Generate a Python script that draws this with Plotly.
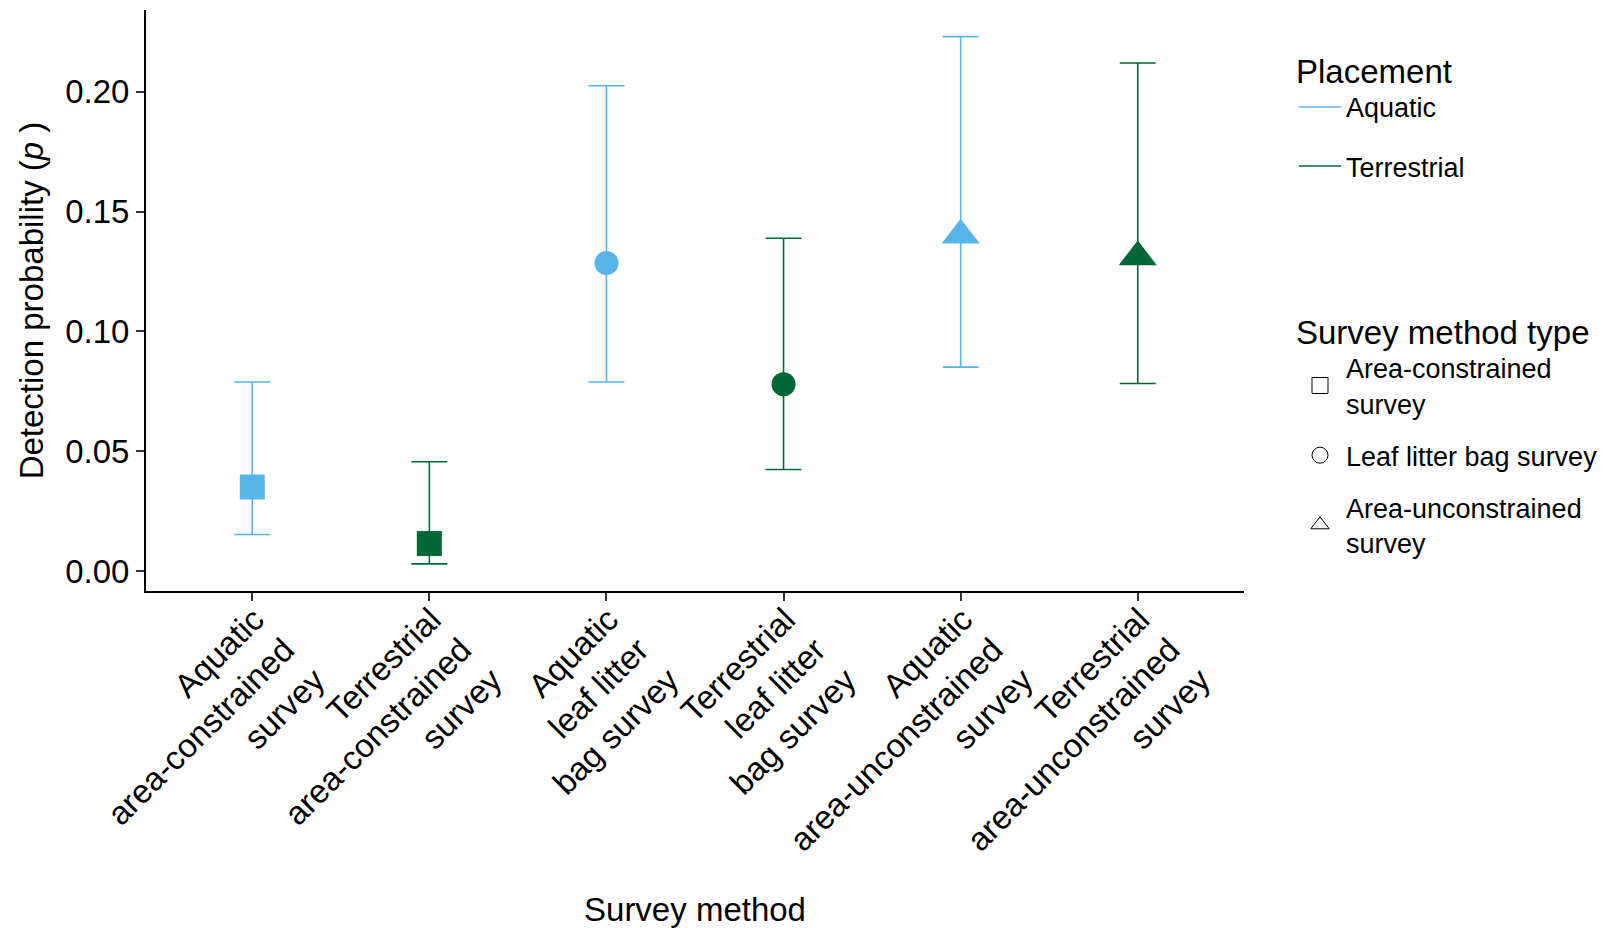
import plotly.graph_objects as go

# ---- data ----
categories = [
    "Aquatic<br>area-constrained<br>survey",
    "Terrestrial<br>area-constrained<br>survey",
    "Aquatic<br>leaf litter<br>bag survey",
    "Terrestrial<br>leaf litter<br>bag survey",
    "Aquatic<br>area-unconstrained<br>survey",
    "Terrestrial<br>area-unconstrained<br>survey",
]
placement = ["Aquatic", "Terrestrial", "Aquatic", "Terrestrial", "Aquatic", "Terrestrial"]
method_type = ["Area-constrained survey", "Area-constrained survey",
               "Leaf litter bag survey", "Leaf litter bag survey",
               "Area-unconstrained survey", "Area-unconstrained survey"]
estimate = [0.0351, 0.0115, 0.1285, 0.0780, 0.1401, 0.1311]
lower = [0.0153, 0.0030, 0.0789, 0.0424, 0.0851, 0.0783]
upper = [0.0789, 0.0456, 0.2025, 0.1389, 0.2230, 0.2120]

placement_levels = ["Aquatic", "Terrestrial"]
placement_colors = {"Aquatic": "#56B4E9", "Terrestrial": "#006837"}
method_levels = ["Area-constrained survey", "Leaf litter bag survey", "Area-unconstrained survey"]
method_labels = {"Area-constrained survey": "Area-constrained<br>survey",
                 "Leaf litter bag survey": "Leaf litter bag survey",
                 "Area-unconstrained survey": "Area-unconstrained<br>survey"}
method_symbols = {"Area-constrained survey": "square",
                  "Leaf litter bag survey": "circle",
                  "Area-unconstrained survey": "triangle-up"}
method_sizes = {"Area-constrained survey": 25,
                "Leaf litter bag survey": 24,
                "Area-unconstrained survey": 33}

FONT = "Liberation Sans, Arial, Helvetica, sans-serif"

fig = go.Figure()

# ---- data marks: one trace per placement ----
for pl in placement_levels:
    idx = [i for i, p in enumerate(placement) if p == pl]
    xs = [categories[i] for i in idx]
    ys = [estimate[i] for i in idx]
    err_plus = [upper[i] - estimate[i] for i in idx]
    err_minus = [estimate[i] - lower[i] for i in idx]
    fig.add_trace(go.Scatter(
        x=xs, y=ys, mode="markers",
        marker=dict(color=placement_colors[pl], opacity=1,
                    symbol=[method_symbols[method_type[i]] for i in idx],
                    size=[method_sizes[method_type[i]] for i in idx],
                    line=dict(width=0)),
        error_y=dict(type="data", symmetric=False, array=err_plus, arrayminus=err_minus,
                     color=placement_colors[pl], thickness=1.6, width=18),
        showlegend=False, name=pl, hoverinfo="x+y",
    ))

# ---- legend entries: Placement ----
for pl in placement_levels:
    fig.add_trace(go.Scatter(
        x=[None], y=[None], mode="lines", name=pl,
        line=dict(color=placement_colors[pl], width=1.6),
        legend="legend", legendgroup="pl_" + pl, showlegend=True,
    ))

# ---- legend entries: Survey method type ----
for mt in method_levels:
    fig.add_trace(go.Scatter(
        x=[None], y=[None], mode="markers", name=method_labels[mt],
        marker=dict(symbol=method_symbols[mt] + "-open", color="black", size=16,
                    line=dict(width=1, color="black")),
        legend="legend2", legendgroup="mt_" + mt, showlegend=True,
    ))

fig.update_layout(
    width=1608, height=928,
    margin=dict(l=146, r=364, t=10, b=337),
    paper_bgcolor="white", plot_bgcolor="white",
    font=dict(family=FONT, size=33, color="black"),
    xaxis=dict(
        type="category", categoryorder="array", categoryarray=categories,
        range=[-0.6, 5.6], tickangle=-45, automargin=False,
        showline=True, linecolor="black", linewidth=2,
        ticks="outside", ticklen=8, tickwidth=2, tickcolor="#333333",
        tickfont=dict(size=33, color="black", family=FONT),
        ticklabelstandoff=-14, ticklabelshift=2,
        showgrid=False, zeroline=False,
        title=dict(text="Survey method", font=dict(size=33), standoff=34),
    ),
    yaxis=dict(
        range=[-0.0083, 0.2341], automargin=False,
        tickvals=[0, 0.05, 0.10, 0.15, 0.20], ticktext=["0.00", "0.05", "0.10", "0.15", "0.20"],
        showline=True, linecolor="black", linewidth=2,
        ticks="outside", ticklen=8, tickwidth=2, tickcolor="#333333",
        tickfont=dict(size=33, color="black", family=FONT),
        showgrid=False, zeroline=False,
        title=dict(text="Detection probability (<i>p</i> )", font=dict(size=33), standoff=12),
    ),
    legend=dict(
        title=dict(text="Placement", font=dict(size=33)),
        font=dict(size=27), xref="container", yref="container",
        x=1294 / 1608, xanchor="left", y=1 - 40 / 928, yanchor="top",
        traceorder="grouped", tracegroupgap=21, itemwidth=42, bgcolor="rgba(0,0,0,0)",
    ),
    legend2=dict(
        title=dict(text="Survey method type", font=dict(size=33)),
        font=dict(size=27), xref="container", yref="container",
        x=1294 / 1608, xanchor="left", y=1 - 301 / 928, yanchor="top",
        traceorder="grouped", tracegroupgap=14, itemwidth=42, bgcolor="rgba(0,0,0,0)",
    ),
)

fig.write_html("out.html")
